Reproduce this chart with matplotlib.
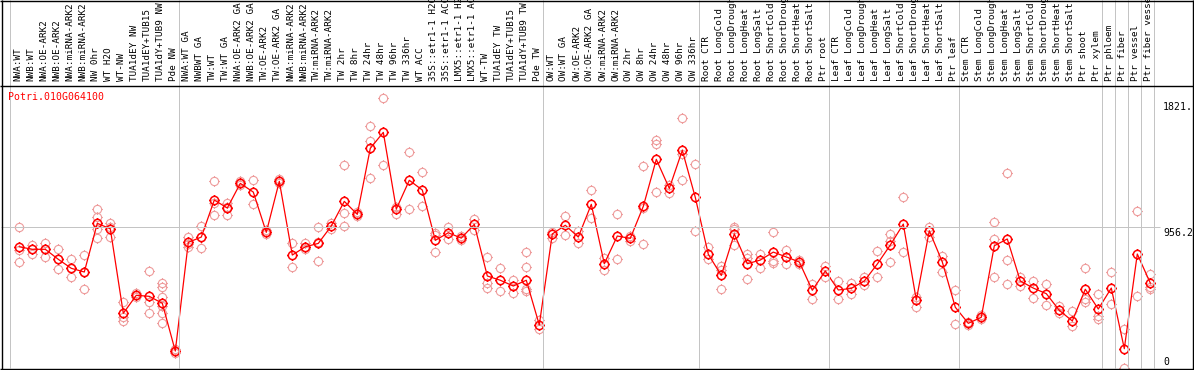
"""
Expression profile of Potri.010G064100 across poplar samples:
replicate values (light circles) and sample means (red line).
"""

import matplotlib
matplotlib.use("Agg")
import matplotlib.pyplot as plt
from matplotlib.lines import Line2D
from matplotlib.path import Path

W, H = 1194, 370
RED = "#FF0000"
REP = "#EE9C9C"
GRID = "#C4C4C4"
MONO = "DejaVu Sans Mono"

GENE = "Potri.010G064100"
Y_MAX = 1912.4
Y_LABELS = ["1821.", "956.2", "0"]

SAMPLES = [
    "NWA:WT", "NWB:WT", "NWA:OE-ARK2", "NWB:OE-ARK2", "NWA:miRNA-ARK2",
    "NWB:miRNA-ARK2", "NW 0hr", "WT H2O", "WT-NW", "TUA1dEY NW",
    "TUA1dEY+TUB15", "TUA1dY+TUB9 NW", "Pde NW",
    "NWA:WT GA", "NWBWT GA", "TW:WT", "TW:WT GA", "NWA:OE-ARK2 GA",
    "NWB:OE-ARK2 GA", "TW:OE-ARK2", "TW:OE-ARK2 GA", "NWA:miRNA-ARK2",
    "NWB:miRNA-ARK2", "TW:miRNA-ARK2", "TW:miRNA-ARK2", "TW 2hr", "TW 8hr",
    "TW 24hr", "TW 48hr", "TW 96hr", "TW 336hr", "WT ACC",
    "35S::etr1-1 H2O", "35S::etr1-1 ACC", "LMX5::etr1-1 H2O",
    "LMX5::etr1-1 ACC", "WT-TW", "TUA1dEY TW", "TUA1dEY+TUB15",
    "TUA1dY+TUB9 TW", "Pde TW",
    "OW:WT", "OW:WT GA", "OW:OE-ARK2", "OW:OE-ARK2 GA", "OW:miRNA-ARK2",
    "OW:miRNA-ARK2", "OW 2hr", "OW 8hr", "OW 24hr", "OW 48hr", "OW 96hr",
    "OW 336hr",
    "Root CTR", "Root LongCold", "Root LongDrought", "Root LongHeat",
    "Root LongSalt", "Root ShortCold", "Root ShortDrought", "Root ShortHeat",
    "Root ShortSalt", "Ptr root",
    "Leaf CTR", "Leaf LongCold", "Leaf LongDrought", "Leaf LongHeat",
    "Leaf LongSalt", "Leaf ShortCold", "Leaf ShortDrought", "Leaf ShortHeat",
    "Leaf ShortSalt", "Ptr leaf",
    "Stem CTR", "Stem LongCold", "Stem LongDrought", "Stem LongHeat",
    "Stem LongSalt", "Stem ShortCold", "Stem ShortDrought", "Stem ShortHeat",
    "Stem ShortSalt", "Ptr shoot", "Ptr xylem",
    "Ptr phloem", "Ptr fiber", "Ptr vessel", "Ptr fiber vessel",
]

# first sample index of each group (group separators)
GROUP_STARTS = [0, 13, 41, 53, 63, 73, 84, 85, 86, 87, 88]

MEANS = [
    822, 805, 805, 737, 676, 651, 981, 944, 371, 493, 486, 439, 115,
    852, 888, 1139, 1085, 1252, 1193, 920, 1266, 766, 822, 845, 963, 1130,
    1042, 1490, 1598, 1078, 1273, 1207, 866, 917, 881, 974, 624, 595, 556,
    595, 292,
    909, 968, 888, 1110, 707, 895, 879, 1096, 1415, 1218, 1476, 1157,
    771, 628, 909, 707, 732, 786, 753, 719, 527, 658,
    529, 540, 590, 705, 834, 976, 461, 931, 719, 412,
    303, 344, 829, 875, 590, 542, 504, 391, 319, 534, 400,
    542, 131, 773, 576,
]

REPLICATES = [
    [954, 800, 717], [834, 807, 773], [845, 805, 755], [805, 737, 669],
    [737, 676, 615], [764, 651, 534], [1076, 1022, 940, 879], [985, 958, 890],
    [447, 348, 321], [506, 493, 479], [656, 447, 371],
    [578, 547, 483, 420, 371, 303], [129, 115, 102],
    [890, 843, 822], [963, 888, 814], [1270, 1117, 1035], [1121, 1094, 1039],
    [1266, 1252, 1239], [1275, 1112], [934, 920, 906], [1279, 1266, 1252],
    [845, 683], [845, 818, 805], [954, 854, 727], [981, 940],
    [1374, 1049, 961], [1056, 1042, 1028], [1641, 1541, 1286], [1829, 1374],
    [1094, 1044], [1462, 1076], [1327, 1096], [913, 902, 784], [954, 873],
    [895, 868], [1008, 936], [750, 578, 544], [678, 520], [597, 506],
    [789, 685, 538, 524], [325, 262],
    [924, 879], [1031, 900], [931, 845], [1207, 1017], [744, 664], [1042, 737],
    [895, 863], [1368, 1083, 841], [1546, 1517, 1191], [1241, 1189],
    [1693, 1451, 1273], [1383, 927],
    [820, 737], [692, 664, 534], [958, 940, 832], [773, 744, 601], [773, 676],
    [920, 725, 714], [800, 703], [732, 705], [567, 466], [692, 619],
    [588, 466], [576, 500], [615, 563], [791, 619], [909, 863, 721],
    [1157, 784], [483, 416], [954, 890], [761, 653], [527, 296],
    [314, 292], [357, 344, 330], [988, 875, 615], [1320, 732, 567], [619, 558],
    [590, 473], [570, 425], [420, 375], [387, 285], [676, 466, 447],
    [502, 355, 334],
    [649, 432], [264, 0], [1065, 488], [637, 547, 534],
]


def px(x, y):
    """pixel (from top-left) -> figure fraction"""
    return x / W, 1 - y / H


def fig_line(fig, x0, y0, x1, y1, color, lw=1.0):
    (fx0, fy0), (fx1, fy1) = px(x0, y0), px(x1, y1)
    fig.add_artist(Line2D([fx0, fx1], [fy0, fy1], color=color, lw=lw * 0.72,
                          transform=fig.transFigure, solid_capstyle="butt"))


def main():
    fig = plt.figure(figsize=(W / 100, H / 100), dpi=100, facecolor="white")

    # plot area: pixels x 1..1155, y 86..368; sample i sits at x = 19.3 + 13 i
    left, top, right, bottom = 1, 86, 1155, 368
    l, b = px(left, bottom)
    ax = fig.add_axes([l, b, (right - left) / W, (bottom - top) / H])
    ax.set_xlim((left - 19.3) / 13, (right - 19.3) / 13)
    ax.set_ylim(0, Y_MAX)
    ax.axis("off")

    # marker: circle with four little ticks
    t = 1.28
    verts = [[0, 1], [0, t], [0, -1], [0, -t], [1, 0], [t, 0], [-1, 0], [-t, 0]]
    codes = [Path.MOVETO, Path.LINETO] * 4
    mark = Path.make_compound_path(Path.unit_circle(), Path(verts, codes))

    # replicates
    for i, reps in enumerate(REPLICATES):
        ax.plot([i] * len(reps), reps, ls="none", marker=mark, ms=7.6,
                mfc="none", mec=REP, mew=0.8, clip_on=False, zorder=2)

    # means
    ax.plot(range(len(MEANS)), MEANS, color=RED, lw=0.9, marker=mark, ms=7.6,
            mfc="none", mec=RED, mew=1.1, zorder=3)

    # horizontal grid at mid value
    y_mid = bottom - (bottom - top) * 956.2 / Y_MAX
    fig_line(fig, left, y_mid, 1160, y_mid, GRID)

    # group separators (through header and plot)
    for k in GROUP_STARTS:
        x = 10 + 13 * k
        fig_line(fig, x, 0, x, bottom, GRID)

    # frame
    fig_line(fig, 0, 0.5, W, 0.5, "black", 1.4)
    fig_line(fig, 0, 85.5, W, 85.5, "black", 1.4)
    fig_line(fig, 0, 368.5, W, 368.5, "black", 1.4)
    fig_line(fig, 1.5, 0, 1.5, H, "black", 1.4)
    fig_line(fig, 1193, 0, 1193, H, "black", 1.4)

    # sample labels (long names run off the top edge, as in the original)
    for i, name in enumerate(SAMPLES):
        fx, fy = px(17.6 + 13 * i, 81)
        fig.text(fx, fy, name, rotation=90, ha="center", va="bottom",
                 family=MONO, fontsize=6.7, color="black")

    # gene id
    fx, fy = px(8, 97)
    fig.text(fx, fy, GENE, ha="left", va="center", family=MONO,
             fontsize=7.1, color=RED)

    # y labels
    for lab, yc in zip(Y_LABELS, [106.7, 232.5, 361.7]):
        fx, fy = px(1163, yc)
        fig.text(fx, fy, lab, ha="left", va="center", family=MONO,
                 fontsize=7.1, color="black")

    fig.savefig("out.png", dpi=100, facecolor="white")
    plt.close(fig)


if __name__ == "__main__":
    main()
